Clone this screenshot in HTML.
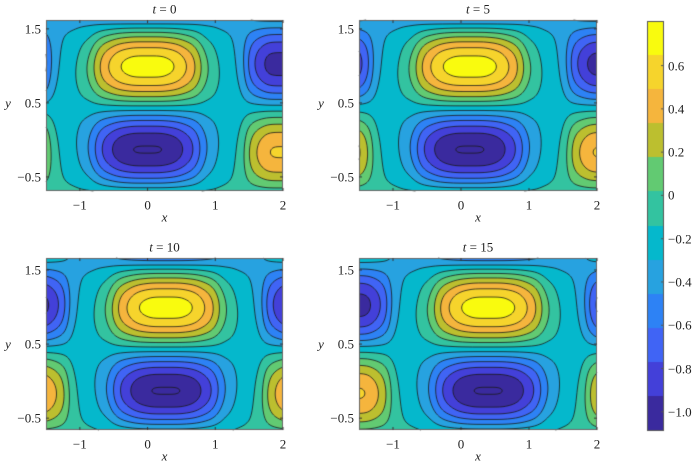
<!DOCTYPE html>
<html><head><meta charset="utf-8"><style>
body{margin:0;background:#fff;width:700px;height:461px;overflow:hidden;position:relative;font-family:"Liberation Serif","Times New Roman","DejaVu Serif",serif;color:#222}
canvas{position:absolute}
.t{position:absolute;font-size:13px;line-height:13px;white-space:nowrap;font-family:"Liberation Serif","Times New Roman","DejaVu Serif",serif}
</style></head><body>
<canvas id="c" width="700" height="461" style="left:0;top:0"></canvas>
<div id="lab"></div>
<script>
const cols=["#f9fb0e","#f6d42c","#f5b53d","#bcbf2f","#62ca72","#33c3a0","#05b8cc","#27a2e0","#2d82f5","#4064f5","#4340d9","#3a2a9e"];
const top0=0.806,step=0.1575;
function band(v){let k=Math.floor((top0-v)/step);if(k<0)k=0;if(k>11)k=11;return k;}
const TU=[0,0.1,0.25,0.39,0.55,0.7,0.79,0.86,0.96,1.0001];
const TP=[1,0.9,0.65,0.32,0.12,0.02,-0.1,-0.38,-0.65,-0.75];
function Pl(u){if(u<0)u=-u;if(u>1)u=2-u;for(let i=1;i<TU.length;i++){if(u<=TU[i]){const t=(u-TU[i-1])/(TU[i]-TU[i-1]);return TP[i-1]+(TP[i]-TP[i-1])*t;}}return TP[TP.length-1];}
const N=1000,LUT=[];
for(let i=0;i<=N;i++){const u=i/N;let s=0,n=0;for(let k=-40;k<=40;k++){s+=Pl(u+k/N);n++;}LUT[i]=s/n;}
function Pu(u){const z=u*N;const i=Math.min(N-1,Math.floor(z));const t=z-i;return LUT[i]*(1-t)+LUT[i+1]*t;}
function f(x,y,s){
  const th=Math.PI*(x-s)/2;const u=(1-Math.cos(th))/2;
  const P=Pu(u);
  const q=Math.sin(Math.PI*(y-0.43)/1.15);
  const c=-0.22-0.1*(y-0.45);
  const A=q>0?1.02:0.95;
  return c+A*q*P;
}
const ctx=document.getElementById('c').getContext('2d');
function rgb(h){return [parseInt(h.substr(1,2),16),parseInt(h.substr(3,2),16),parseInt(h.substr(5,2),16)];}
const C=cols.map(rgb);
const panels=[
 {L:46,R:283,T:20,B:191,yt:1.62,yb:-0.69,s:0,title:"0"},
 {L:359,R:597,T:20,B:191,yt:1.62,yb:-0.69,s:0.13,title:"5"},
 {L:46,R:283,T:258,B:430,yt:1.662,yb:-0.66,s:0.27,title:"10"},
 {L:359,R:597,T:258,B:430,yt:1.662,yb:-0.66,s:0.4,title:"15"}];
let html="";
function T(x,y,txt,align,extra){const tr=align=="c"?"translate(-50%,-50%)":align=="r"?"translate(-100%,-50%)":"translateY(-50%)";html+=`<div class="t" style="left:${x}px;top:${y}px;transform:${tr};${extra||""}">${txt}</div>`;}
panels.forEach(p=>{
  const W=p.R-p.L,H=p.B-p.T;
  const X=i=>-1.5+3.5*i/W, Y=j=>p.yt-(p.yt-p.yb)*j/H;
  const img=ctx.createImageData(W,H);
  for(let j=0;j<H;j++)for(let i=0;i<W;i++){const c=C[band(f(X(i+0.5),Y(j+0.5),p.s))];const o=(j*W+i)*4;img.data[o]=c[0];img.data[o+1]=c[1];img.data[o+2]=c[2];img.data[o+3]=255;}
  ctx.putImageData(img,p.L,p.T);
  const g=[];for(let j=0;j<=H;j++){g[j]=[];for(let i=0;i<=W;i++)g[j][i]=f(X(i),Y(j),p.s);}
  ctx.strokeStyle="#1a1a1a";ctx.lineWidth=0.8;ctx.beginPath();
  for(let k=1;k<=12;k++){const lv=top0-k*step;
    for(let j=0;j<H;j++)for(let i=0;i<W;i++){
      const a=g[j][i],b=g[j][i+1],c=g[j+1][i+1],d=g[j+1][i];const pts=[];
      const e=(v1,v2,x1,y1,x2,y2)=>{if((v1<lv)!=(v2<lv)){const t=(lv-v1)/(v2-v1);pts.push([x1+(x2-x1)*t,y1+(y2-y1)*t]);}};
      e(a,b,i,j,i+1,j);e(b,c,i+1,j,i+1,j+1);e(c,d,i+1,j+1,i,j+1);e(d,a,i,j+1,i,j);
      for(let m=0;m+1<pts.length;m+=2){ctx.moveTo(p.L+pts[m][0],p.T+pts[m][1]);ctx.lineTo(p.L+pts[m+1][0],p.T+pts[m+1][1]);}
    }}
  ctx.stroke();
  ctx.strokeStyle="#666";ctx.lineWidth=1;ctx.strokeRect(p.L+0.5,p.T+0.5,W-1,H-1);
  ctx.strokeStyle="#333";ctx.beginPath();
  [-1,0,1,2].forEach(v=>{const x=p.L+(v+1.5)/3.5*W;ctx.moveTo(x,p.B);ctx.lineTo(x,p.B-3);ctx.moveTo(x,p.T);ctx.lineTo(x,p.T+3);
    T(x,p.B+14,v<0?"\u2212"+(-v):""+v,"c");});
  [1.5,0.5,-0.5].forEach(v=>{const y=p.T+(p.yt-v)/(p.yt-p.yb)*H;ctx.moveTo(p.L,y);ctx.lineTo(p.L+3,y);ctx.moveTo(p.R,y);ctx.lineTo(p.R-3,y);
    T(p.L-5,y,v<0?"\u2212"+(-v):""+v,"r");});
  ctx.stroke();
  T((p.L+p.R)/2,p.T-11,"<i>t</i> = "+p.title,"c");
  T((p.L+p.R)/2,p.B+26,"<i>x</i>","c");
  T(p.L-38,p.T+(p.yt-0.5)/(p.yt-p.yb)*H,"<i>y</i>","c");
});
for(let k=0;k<12;k++){ctx.fillStyle=cols[k];const y0=21+409*k/12,y1=21+409*(k+1)/12;ctx.fillRect(647,Math.round(y0),17,Math.round(y1)-Math.round(y0));}
ctx.strokeStyle="#555";ctx.lineWidth=1;ctx.strokeRect(647.5,21.5,16,409);
ctx.beginPath();
[0.6,0.4,0.2,0,-0.2,-0.4,-0.6,-0.8,-1.0].forEach(v=>{const y=21+(top0-v)/(12*step)*409;ctx.moveTo(664,y);ctx.lineTo(661,y);
  T(668,y,v==0?"0":(v<0?"\u2212":"")+Math.abs(v).toFixed(1),"l");});
ctx.stroke();
document.getElementById('lab').innerHTML=html;
</script>
</body></html>
